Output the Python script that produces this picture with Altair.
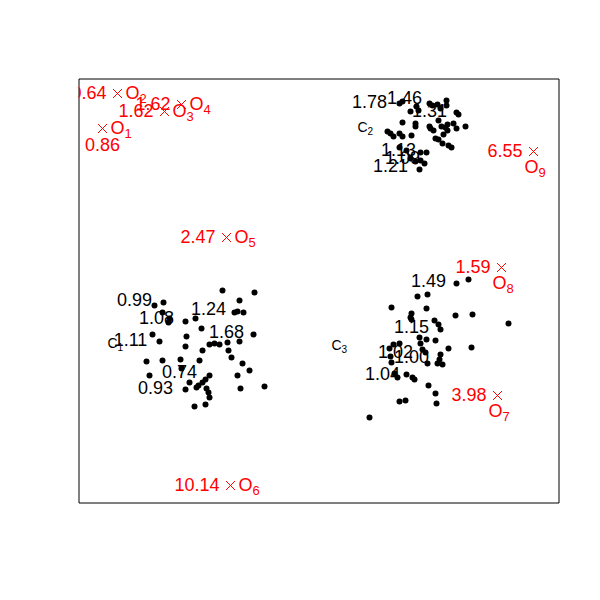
import altair as alt
import pandas as pd

FONT = "Liberation Sans"

# ---- cluster points (x, y in plot units) ----
c1_x = [223, 255, 155, 164, 163, 170, 169, 186, 196, 240, 235, 238, 244, 202, 187, 153, 160, 186, 203, 210,
        215, 220, 228, 240, 254, 229, 232, 147, 163, 181, 200, 243, 250, 150, 182, 238, 210, 206, 203, 199,
        197, 190, 186, 207, 209, 210, 241, 265, 195, 206]
c1_y = [290, 292, 305, 302, 312, 318, 322, 321, 318, 300, 312, 311, 312, 328, 336, 334, 341, 346, 350, 344,
        343, 344, 342, 341, 334, 350, 357, 361, 360, 359, 360, 363, 370, 375, 368, 375, 375, 379, 382, 385,
        387, 382, 389, 388, 392, 397, 388, 386, 406, 404]

c2_x = [400, 403, 417, 411, 430, 433, 438, 441, 447, 447, 457, 459, 419, 416, 416, 403, 430, 439, 442, 446,
        448, 454, 466, 388, 391, 394, 400, 403, 412, 431, 434, 439, 444, 448, 457, 436, 443, 449, 452, 400,
        407, 421, 427, 421, 425, 411, 416, 420]
c2_y = [103, 101, 106, 111, 103, 105, 104, 108, 100, 105, 112, 114, 110, 123, 126, 122, 126, 120, 126, 127,
        124, 123, 126, 131, 133, 136, 133, 136, 135, 128, 130, 139, 134, 130, 128, 138, 143, 145, 147, 147,
        150, 152, 152, 160, 163, 158, 161, 169]

c3_x = [457, 469, 418, 428, 392, 427, 412, 411, 412, 456, 473, 509, 435, 439, 441, 420, 427, 436, 421, 394,
        400, 390, 423, 426, 449, 472, 392, 391, 428, 438, 440, 443, 441, 398, 395, 407, 413, 415, 429, 436,
        437, 400, 406, 370]
c3_y = [283, 279, 296, 294, 307, 308, 313, 317, 319, 315, 314, 323, 320, 324, 329, 337, 339, 340, 343, 344,
        343, 348, 349, 352, 348, 347, 362, 356, 363, 363, 359, 364, 354, 377, 373, 374, 377, 379, 385, 393,
        403, 401, 400, 417]

# ---- black value labels ----
lab_x = [370, 405, 430, 399, 403, 391, 135, 157, 209, 227, 131, 180, 156, 429, 412, 396, 412, 383]
lab_y = [102, 98, 111, 150, 158, 166, 300, 318, 309, 332, 340, 372, 388, 281, 327, 352, 357, 374]
lab_t = ["1.78", "1.46", "1.31", "1.13", "1.09", "1.21", "0.99", "1.08", "1.24", "1.68", "1.11", "0.74",
         "0.93", "1.49", "1.15", "1.02", "1.00", "1.04"]

# ---- cluster names ----
cl_x = [113, 363, 337]
cl_y = [343, 127, 345]
cl_i = ["1", "2", "3"]

# ---- outliers ----
o_x = [103, 118, 165, 182, 227, 231, 498, 502, 534]
o_y = [128, 93, 111, 104, 237, 485, 395, 267, 151]
o_val = ["0.86", "0.64", "1.62", "1.62", "2.47", "10.14", "3.98", "1.59", "6.55"]
o_idx = ["1", "2", "3", "4", "5", "6", "7", "8", "9"]
o_numpos = ["below", "left", "left", "left", "left", "left", "left", "left", "left"]
o_labpos = ["right", "right", "right", "right", "right", "right", "below", "below", "below"]

pts = pd.DataFrame({"x": c1_x + c2_x + c3_x, "y": c1_y + c2_y + c3_y})
labs = pd.DataFrame({"x": lab_x, "y": lab_y, "t": lab_t})
cls = pd.DataFrame({"x": cl_x, "y": cl_y, "i": cl_i})
outs = pd.DataFrame({"x": o_x, "y": o_y, "v": o_val, "i": o_idx, "np": o_numpos, "lp": o_labpos})

xs = alt.Scale(domain=[79, 559], nice=False, zero=False)
ys = alt.Scale(domain=[502, 78], nice=False, zero=False)
X = alt.X("x:Q", scale=xs, axis=None)
Y = alt.Y("y:Q", scale=ys, axis=None)

RED = "#FF0000"
FS = 18
SUB = 13

txt_black = alt.Chart(labs).mark_text(font=FONT, fontSize=FS, color="black", baseline="middle").encode(
    x=X, y=Y, text="t:N")
cl_c = alt.Chart(cls).mark_text(font=FONT, fontSize=14, color="black", baseline="middle", text="C").encode(
    x=X, y=Y)
cl_s = alt.Chart(cls).mark_text(font=FONT, fontSize=10, color="black", baseline="middle", align="left",
                                dx=5, dy=4).encode(x=X, y=Y, text="i:N")

dots = alt.Chart(pts).mark_circle(size=36, color="black", opacity=1).encode(x=X, y=Y)

cross = alt.Chart(outs).mark_point(shape="M-1,-1L1,1M-1,1L1,-1", size=81, color=RED, filled=False,
                                   strokeWidth=1, opacity=1).encode(x=X, y=Y)

num_left = alt.Chart(outs).transform_filter(alt.datum.np == "left").mark_text(
    font=FONT, fontSize=FS, color=RED, align="right", baseline="middle", dx=-11, clip=True).encode(
    x=X, y=Y, text="v:N")
num_below = alt.Chart(outs).transform_filter(alt.datum.np == "below").mark_text(
    font=FONT, fontSize=FS, color=RED, align="center", baseline="middle", dy=17, clip=True).encode(
    x=X, y=Y, text="v:N")

o_right = alt.Chart(outs).transform_filter(alt.datum.lp == "right").mark_text(
    font=FONT, fontSize=FS, color=RED, align="left", baseline="middle", dx=8, text="O", clip=True).encode(
    x=X, y=Y)
o_right_s = alt.Chart(outs).transform_filter(alt.datum.lp == "right").mark_text(
    font=FONT, fontSize=SUB, color=RED, align="left", baseline="middle", dx=22, dy=5, clip=True).encode(
    x=X, y=Y, text="i:N")
o_below = alt.Chart(outs).transform_filter(alt.datum.lp == "below").mark_text(
    font=FONT, fontSize=FS, color=RED, align="center", baseline="middle", dx=-2, dy=16, text="O",
    clip=True).encode(x=X, y=Y)
o_below_s = alt.Chart(outs).transform_filter(alt.datum.lp == "below").mark_text(
    font=FONT, fontSize=SUB, color=RED, align="left", baseline="middle", dx=5, dy=21, clip=True).encode(
    x=X, y=Y, text="i:N")

chart = alt.layer(txt_black, cl_c, cl_s, dots, cross, num_left, num_below, o_right, o_right_s,
                  o_below, o_below_s).properties(
    width=480, height=424, autosize="none", background="white",
    padding={"left": 70.5, "top": 70.5, "right": 33, "bottom": 90},
).configure_view(stroke="#000000", strokeWidth=1, strokeOpacity=1)

chart.save("out.html", embed_options={"renderer": "svg", "actions": False})
